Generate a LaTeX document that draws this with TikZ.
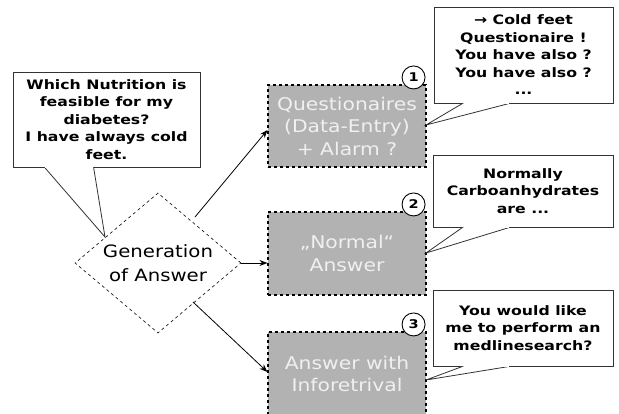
\documentclass[tikz,border=0pt]{standalone}
\usepackage{fontspec}
\setmainfont{DejaVu Sans}
\newfontfamily\calloutfont[FakeStretch=1.21]{DejaVu Sans}
\newfontfamily\widefont[FakeStretch=1.16]{DejaVu Sans}
\usetikzlibrary{shapes.geometric,arrows.meta,calc}
\definecolor{boxgray}{HTML}{B2B2B2}
\definecolor{boxtext}{HTML}{F0F0F0}
\begin{document}
\begin{tikzpicture}[x=1pt,y=-1pt,
  answerbox/.style={draw=black,dashed,line width=1.1pt,fill=boxgray,text=boxtext,
    minimum width=158pt,inner sep=0pt,align=center,font=\widefont\fontsize{17.5}{22.5}\selectfont},
  numcircle/.style={circle,draw=black,line width=0.9pt,fill=white,minimum size=23pt,
    inner sep=0pt,font=\calloutfont\bfseries\fontsize{12}{14}\selectfont},
  calloutbox/.style={draw=black!80,line width=0.8pt,fill=white,inner sep=0pt,align=center,
    font=\calloutfont\bfseries\fontsize{13}{17.5}\selectfont},
  tail/.style={draw=black!80,line width=0.8pt,fill=white},
  conn/.style={line width=0.8pt,-{Stealth[length=8pt,width=6pt]}},
  decision/.style={diamond,draw=black,dashed,line width=0.6pt,aspect=1.18,inner sep=0pt,
    minimum width=166pt,minimum height=140pt,align=center,font=\widefont\fontsize{17}{24}\selectfont}
]
\useasboundingbox (0,0) rectangle (619,414);

% decision
\node[decision] (gen) at (158,263) {Generation\\of Answer};

% answer boxes
\node[answerbox,minimum height=82pt] (b1) at (347,126) {Questionaires\\(Data-Entry)\\+ Alarm ?};
\node[answerbox,minimum height=83pt] (b2) at (347,253.5) {„Normal“\\Answer};
\node[answerbox,minimum height=84pt] (b3) at (347,374) {Answer with\\Inforetrival};

\node[numcircle] (n1) at ($(b1.north east)+(-13,-7)$) {1};
\node[numcircle] (n2) at ($(b2.north east)+(-13,-7)$) {2};
\node[numcircle] (n3) at ($(b3.north east)+(-13,-7)$) {3};

% connectors
\coordinate (g1) at (195,217);
\coordinate (g3) at (193,302);
\draw[conn] (g1) -- (b1.west |- 0,130);
\draw[conn] (gen.east) -- (b2.west |- gen.east);
\draw[conn] (g3) -- (b3.west |- 0,372);

% question callout
\node[calloutbox,minimum width=187pt,minimum height=95pt] (q) at (106.5,119.5)
  {Which Nutrition is\\feasible for my\\diabetes?\\I have always cold\\feet.};
\coordinate (qa) at (105,237);
\draw[tail] ($(q.south west)+(32,0)$) -- (qa) -- ($(q.south west)+(81,0)$);
\draw[white,line width=1.4pt] ($(q.south west)+(32.8,0)$) -- ($(q.south west)+(80.4,0)$);

% callout 1
\node[calloutbox,minimum width=179pt,minimum height=96pt] (c1) at (523.5,55)
  {→ Cold feet\\Questionaire !\\You have also ?\\You have also ?\\...};
\coordinate (c1a) at (426,125);
\draw[tail] ($(c1.south west)+(29,0)$) -- (c1a) -- ($(c1.south west)+(76,0)$);
\draw[white,line width=1.4pt] ($(c1.south west)+(30,0)$) -- ($(c1.south west)+(75.2,0)$);

% callout 2
\node[calloutbox,minimum width=180pt,minimum height=72pt] (c2) at (523,191)
  {\raisebox{2pt}{\parbox{176pt}{\centering Normally\\Carboanhydrates\\are ...}}};
\coordinate (c2a) at (426,253);
\draw[tail] ($(c2.south west)+(30,0)$) -- (c2a) -- ($(c2.south west)+(77,0)$);
\draw[white,line width=1.4pt] ($(c2.south west)+(31,0)$) -- ($(c2.south west)+(76.2,0)$);

% callout 3
\node[calloutbox,minimum width=180pt,minimum height=76pt] (c3) at (523,328)
  {\raisebox{3pt}{\parbox{176pt}{\centering You would like\\me to perform an\\medlinesearch?}}};
\coordinate (c3a) at (426,380);
\draw[tail] ($(c3.south west)+(30,0)$) -- (c3a) -- ($(c3.south west)+(77,0)$);
\draw[white,line width=1.4pt] ($(c3.south west)+(31,0)$) -- ($(c3.south west)+(76.2,0)$);
\end{tikzpicture}
\end{document}
